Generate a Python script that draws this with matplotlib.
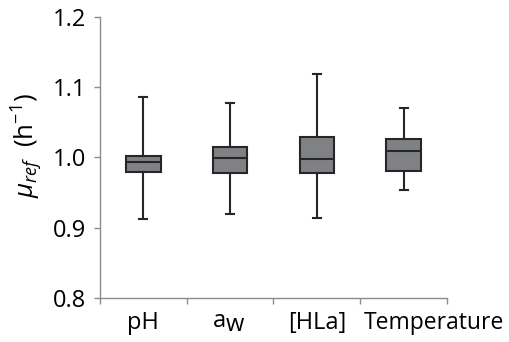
import matplotlib
matplotlib.use("Agg")
import matplotlib.pyplot as plt
import matplotlib.transforms as mtransforms

plt.rcParams['font.family'] = ['Open Sans', 'DejaVu Sans']
plt.rcParams['mathtext.fontset'] = 'custom'
plt.rcParams['mathtext.rm'] = 'Open Sans'
plt.rcParams['mathtext.it'] = 'Open Sans:italic'

categories = ['pH', 'aw', '[HLa]', 'Temperature']
whisker_low = [0.9125, 0.9196, 0.9134, 0.9533]
q1 = [0.9798, 0.9784, 0.9784, 0.9808]
median = [0.9931, 0.9993, 0.9983, 1.0088]
q3 = [1.0026, 1.0145, 1.0296, 1.0263]
whisker_high = [1.0857, 1.0776, 1.1184, 1.0700]

stats = []
for i in range(len(categories)):
    stats.append(dict(whislo=whisker_low[i], q1=q1[i], med=median[i],
                      q3=q3[i], whishi=whisker_high[i], fliers=[]))

fig = plt.figure(figsize=(5.1, 3.42), dpi=100)
ax = fig.add_axes([0.196, 0.1287, 0.6805, 0.8216])

edge = '#262626'
positions = [1, 2, 3, 4]
ax.bxp(stats, positions=positions, widths=0.40, patch_artist=True,
       showfliers=False, capwidths=0.09,
       boxprops=dict(facecolor='#808184', edgecolor=edge, linewidth=1.5),
       medianprops=dict(color=edge, linewidth=1.5),
       whiskerprops=dict(color=edge, linewidth=1.5),
       capprops=dict(color=edge, linewidth=1.5))

fs = 17
ax.set_xlim(0.5, 4.5)
ax.set_ylim(0.8, 1.2)
ax.set_yticks([0.8, 0.9, 1.0, 1.1, 1.2])
ax.set_yticklabels(['0.8', '0.9', '1.0', '1.1', '1.2'])
ax.set_xticks([0.5, 1.5, 2.5, 3.5, 4.5])
ax.set_xticklabels([])

# category labels
trans = mtransforms.blended_transform_factory(ax.transData, ax.transAxes)
label_y = -0.088
for i, cat in enumerate(categories):
    if cat == 'aw':
        t_up = trans + mtransforms.ScaledTranslation(-3 / 72, 1.5 / 72, fig.dpi_scale_trans)
        t_dn = trans + mtransforms.ScaledTranslation(-3 / 72, -2.0 / 72, fig.dpi_scale_trans)
        ax.text(positions[i], label_y, 'a', transform=t_up, ha='right', va='center',
                fontsize=fs, clip_on=False)
        ax.text(positions[i], label_y, 'w', transform=t_dn, ha='left', va='center',
                fontsize=fs, clip_on=False)
    elif cat == 'Temperature':
        # label overflows its slot, so it starts just right of the slot's left tick
        ax.text(positions[i] - 0.46, label_y, cat, transform=trans, ha='left', va='center',
                fontsize=16.5, clip_on=False)
    else:
        ax.text(positions[i], label_y, cat, transform=trans, ha='center', va='center',
                fontsize=fs, clip_on=False)

axis_col = '#8c8c8c'
for s in ['top', 'right']:
    ax.spines[s].set_visible(False)
for s in ['left', 'bottom']:
    ax.spines[s].set_color(axis_col)
    ax.spines[s].set_linewidth(1.0)
ax.tick_params(axis='both', which='major', color=axis_col, length=4, width=1.0,
               labelsize=fs, labelcolor='black', direction='out')
ax.tick_params(axis='y', pad=6)

ax.set_ylabel(r'$\mathit{\mu_{ref}}$  (h$^{\mathrm{-1}}$)', fontsize=18.5)
ax.yaxis.set_label_coords(-0.158, 0.543)

fig.savefig('out.png', dpi=100)
